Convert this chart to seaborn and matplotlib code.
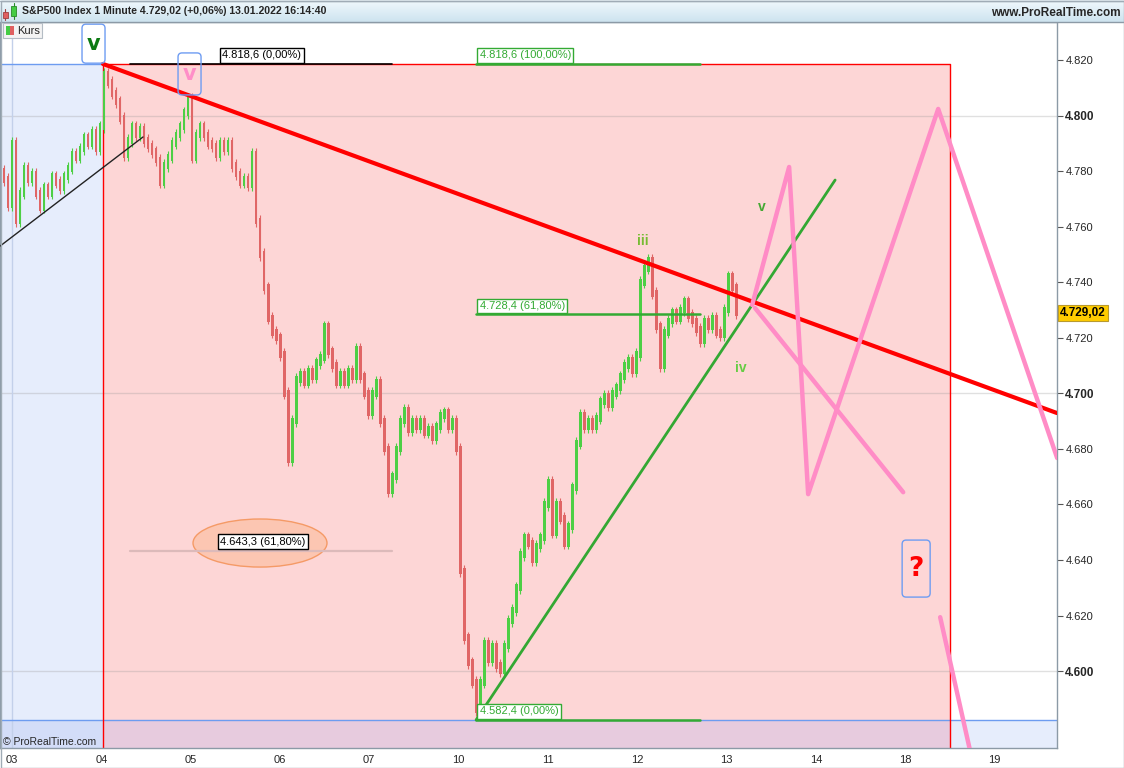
import numpy as np
import matplotlib
matplotlib.use("Agg")
import matplotlib.pyplot as plt
from matplotlib.patches import Rectangle, Ellipse, FancyBboxPatch
import seaborn as sns

# S&P500 1-minute closes (one value every ~4 minutes of screen)
closes = [
    4780, 4777, 4768, 4790, 4762, 4772, 4781, 4777, 4779, 4772, 4767, 4774, 4772,
    4778, 4776, 4774, 4778, 4781, 4786, 4785, 4788, 4792, 4790, 4794, 4788, 4796,
    4815, 4812, 4808, 4805, 4799, 4786, 4791, 4796, 4793, 4795, 4791, 4789, 4787,
    4784, 4776, 4782, 4785, 4790, 4793, 4796, 4801, 4806, 4785, 4793, 4796, 4793,
    4790, 4789, 4786, 4790, 4788, 4790, 4782, 4779, 4776, 4777, 4775, 4786,
    4762, 4750, 4738, 4727, 4722, 4720, 4714, 4700, 4676, 4690, 4705, 4707, 4704,
    4708, 4706, 4711, 4713, 4724, 4715, 4710, 4704, 4707, 4704, 4708, 4706, 4716,
    4706, 4700, 4693, 4700, 4704, 4690, 4680, 4665, 4670, 4680, 4690, 4694, 4687,
    4690, 4688, 4690, 4686, 4687, 4684, 4688, 4692, 4693, 4688, 4690, 4680,
    4636, 4612, 4603, 4596, 4586, 4596, 4610, 4604, 4609, 4602, 4600, 4609, 4618,
    4622, 4630, 4642, 4648, 4646, 4640, 4645, 4648, 4660, 4668, 4650, 4660, 4655,
    4646, 4652, 4666, 4682, 4692, 4688, 4690, 4688, 4691, 4697, 4699, 4696, 4700,
    4702, 4706, 4710, 4712, 4708, 4714,
    4740, 4745, 4748, 4736, 4724, 4710, 4722, 4726, 4729, 4727, 4730, 4733, 4728,
    4726, 4723, 4719, 4726, 4724, 4727, 4722, 4721, 4730, 4742, 4738, 4729,
]
bar_start = -0.134   # time of first bar, in trading days (0 = 03.01.)
bar_step = 0.0448

day_labels = ['03', '04', '05', '06', '07', '10', '11', '12', '13', '14', '18', '19']
price_ticks = [4600, 4620, 4640, 4660, 4680, 4700, 4720, 4740, 4760, 4780, 4800, 4820]
bold_ticks = [4600, 4700, 4800]
last_price = 4729.02

# fibonacci levels
fib_top = 4818.6
fib_618 = 4728.4
fib_bottom = 4582.4
fib_ext = 4643.3

# drawing tools (time in trading days, price)
box_start, box_end = 1.019, 10.504
red_t, red_p = [1.019, 11.70], [4818.6, 4692.9]
green_t, green_p = [5.196, 9.216], [4582.4, 4776.8]
black_t, black_p = [-0.134, 1.467], [4753.0, 4792.3]
proj_a_t = [8.287, 8.701, 8.914, 10.370, 11.702]
proj_a_p = [4731.8, 4781.5, 4663.7, 4802.4, 4676.7]
proj_b_t = [8.320, 9.978]
proj_b_p = [4730.7, 4664.4]
proj_c_t = [10.392, 10.75]
proj_c_p = [4619.4, 4568.0]

XMIN, XMAX = -0.134, 11.70
YMIN, YMAX = 4572.3, 4833.7
PX_T = 1 / 89.3    # days per pixel
PX_P = 1 / 2.777   # index points per pixel

UP, DOWN = '#4dcf45', '#e06666'
PINK = '#ff8cc6'
FIBGREEN = '#33aa33'
NARROW = ['Liberation Sans Narrow', 'Liberation Sans', 'DejaVu Sans']


def de(v, nd):
    s = f"{v:,.{nd}f}"
    return s.replace(',', 'X').replace('.', ',').replace('X', '.')


sns.set_style('white')
plt.rcParams['font.family'] = ['Liberation Sans', 'DejaVu Sans']

fig = plt.figure(figsize=(11.24, 7.68), dpi=100)
ax = fig.add_axes([0, 20 / 768, 1057 / 1124, 726 / 768])
ax.set_xlim(XMIN, XMAX)
ax.set_ylim(YMIN, YMAX)

# background zones
zones = [
    (XMIN, fib_bottom, box_start, fib_top, '#e6edfc'),
    (XMIN, YMIN, box_start, fib_bottom, '#d3ddf8'),
    (box_start, fib_bottom, box_end, fib_top, '#fdd6d6'),
    (box_start, YMIN, box_end, fib_bottom, '#e7cbde'),
    (box_end, YMIN, XMAX, fib_bottom, '#e6edfc'),
]
for xa, ya, xb, yb, c in zones:
    ax.add_patch(Rectangle((xa, ya), xb - xa, yb - ya, fc=c, ec='none', zorder=0))
ax.plot([XMIN, box_start], [fib_top, fib_top], color='#6d9cf0', lw=1, zorder=1)
ax.plot([XMIN, XMAX], [fib_bottom, fib_bottom], color='#6d9cf0', lw=1, zorder=1)
ax.plot([box_start, box_start, box_end, box_end], [YMIN, fib_top, fib_top, YMIN],
        color='red', lw=1, zorder=1)

for v in bold_ticks:
    ax.axhline(v, color='#9a9a9a', alpha=0.3, lw=1, zorder=0.5)
ax.axvline(0, color='#c3d0ea', lw=1, zorder=0.5)

# price bars: body from previous close to close, with a little noise margin
closes = np.array(closes, dtype=float)
t = bar_start + bar_step * np.arange(len(closes))
opens = np.r_[closes[0], closes[:-1]]
cols = [UP if c >= o else DOWN for o, c in zip(opens, closes)]
lows = np.minimum(opens, closes) - 1.2
highs = np.maximum(opens, closes) + 1.2
ax.bar(t, highs - lows, bottom=lows, width=bar_step * 0.7, color=cols, lw=0, zorder=2)
ax.vlines(t, lows - 1.0, highs + 1.0, colors=cols, lw=0.8, zorder=2)

# fib levels
ax.plot([1.321, 4.255], [fib_top, fib_top], color='black', lw=1.2, zorder=3)
ax.plot([1.321, 4.255], [fib_ext, fib_ext], color='#dcbaba', lw=1.6, zorder=3)
for lvl in (fib_top, fib_618, fib_bottom):
    ax.plot([5.196, 7.704], [lvl, lvl], color=FIBGREEN, lw=1.8, zorder=3)

ax.add_patch(Ellipse((2.777, 4646.1), 1.50, 17.3, fc='#fcc6b2', ec='#f59a66', lw=1, zorder=2.5))


def fib_label(x, y, s, color, ha='left', va='bottom', off=(2.5, 2.5)):
    ax.annotate(s, xy=(x, y), xytext=off, textcoords='offset points', ha=ha, va=va,
                fontsize=8, color=color, zorder=7,
                bbox=dict(boxstyle='square,pad=0.22', fc='white', ec=color, lw=1))


fib_label(2.318, fib_top, f"{de(fib_top, 1)} (0,00%)", 'black')
fib_label(5.196, fib_top, f"{de(fib_top, 1)} (100,00%)", FIBGREEN)
fib_label(5.196, fib_618, f"{de(fib_618, 1)} (61,80%)", FIBGREEN)
fib_label(5.196, fib_bottom, f"{de(fib_bottom, 1)} (0,00%)", FIBGREEN)
fib_label(2.811, 4646.6, f"{de(fib_ext, 1)} (61,80%)", 'black', ha='center', va='center', off=(0, 0))

# trend lines and projection
sns.lineplot(x=black_t, y=black_p, ax=ax, color='#222222', lw=1, sort=False, estimator=None, zorder=4)
sns.lineplot(x=green_t, y=green_p, ax=ax, color='#33a833', lw=2, sort=False, estimator=None, zorder=4)
sns.lineplot(x=red_t, y=red_p, ax=ax, color='#ff0000', lw=3, sort=False, estimator=None, zorder=4)
for pt, pp in ((proj_a_t, proj_a_p), (proj_b_t, proj_b_p), (proj_c_t, proj_c_p)):
    sns.lineplot(x=pt, y=pp, ax=ax, color=PINK, lw=3.2, sort=False, estimator=None, zorder=5)


def wave_box(tc, pc, w, h, s, color, size):
    ax.add_patch(FancyBboxPatch((tc - w * PX_T / 2, pc - h * PX_P / 2), w * PX_T, h * PX_P,
                                boxstyle=f"round,pad=0,rounding_size={4 * PX_T}",
                                mutation_aspect=PX_P / PX_T, fc='none', ec='#6e9cf2',
                                lw=1, zorder=6, clip_on=False))
    ax.text(tc, pc, s, color=color, fontsize=size, fontweight='bold', ha='center',
            va='center', zorder=7, family=['DejaVu Sans'])


wave_box(0.913, 4825.9, 23, 39, 'v', '#0b7a12', 15)
wave_box(1.988, 4815.0, 23, 42, 'v', '#ff8ec8', 15)
wave_box(10.123, 4636.9, 28, 57, '?', '#ff0000', 19)

ax.text(7.066, 4754.8, 'iii', color='#77bb33', fontsize=10, fontweight='bold', ha='center', va='center')
ax.text(8.399, 4767.1, 'v', color='#44a833', fontsize=10, fontweight='bold', ha='center', va='center')
ax.text(8.163, 4709.1, 'iv', color='#66cc44', fontsize=10, fontweight='bold', ha='center', va='center')

# axes
ax.yaxis.tick_right()
ax.set_yticks(price_ticks)
ax.set_yticklabels([de(v, 0) for v in price_ticks])
ax.set_xticks(range(len(day_labels)))
ax.set_xticklabels(day_labels)
ax.tick_params(axis='y', direction='out', length=4, width=0.8, color='#555555', pad=2, labelsize=8)
ax.tick_params(axis='x', direction='out', length=4, width=0.8, color='#555555', pad=1, labelsize=8)
ax.tick_params(axis='y', left=False, right=True)
for lbl in ax.get_yticklabels() + ax.get_xticklabels():
    lbl.set_family(NARROW)
for lbl, v in zip(ax.get_yticklabels(), price_ticks):
    if v in bold_ticks:
        lbl.set_fontweight('bold')
        lbl.set_fontsize(8.5)
for sp in ax.spines.values():
    sp.set_color('#8c9aa6')
    sp.set_linewidth(1)
ax.set_xlabel('')
ax.set_ylabel('')

ax.text(1.003, last_price, de(last_price, 2), transform=ax.get_yaxis_transform(),
        ha='left', va='center', fontsize=8.5, fontweight='bold', color='black', zorder=8,
        clip_on=False, bbox=dict(boxstyle='square,pad=0.15', fc='#ffcc00', ec='#b89a30', lw=0.8))

# header, legend and frame in pixel coordinates
ov = fig.add_axes([0, 0, 1, 1])
ov.set_xlim(0, 1124)
ov.set_ylim(768, 0)
ov.axis('off')
grad = np.linspace(0, 1, 50)[:, None]
ov.imshow(grad, extent=[0, 1124, 22, 0], cmap=matplotlib.colors.LinearSegmentedColormap.from_list(
    'hdr', ['#f1f9fd', '#cde3ef']), aspect='auto', zorder=1)
ov.plot([0, 1124], [22, 22], color='#8c9aa6', lw=1, zorder=2)
ov.plot([0, 1124], [0.5, 0.5], color='#a8b6c2', lw=1, zorder=2)
ov.add_patch(Rectangle((0.5, 0.5), 1123, 767, fc='none', ec='#a0acb6', lw=1, zorder=2))
ov.plot([5, 5], [9, 20], color='#a04040', lw=0.8, zorder=3)
ov.add_patch(Rectangle((3, 12), 4.5, 6, fc='#e06060', ec='#a04040', lw=0.6, zorder=4))
ov.plot([13.5, 13.5], [3, 19], color='#2a8a2a', lw=0.8, zorder=3)
ov.add_patch(Rectangle((11, 6), 5, 10, fc='#44cc44', ec='#2a8a2a', lw=0.6, zorder=4))
ov.text(22, 11.5, 'S&P500 Index 1 Minute 4.729,02 (+0,06%) 13.01.2022 16:14:40', fontsize=7.6,
        fontweight='bold', va='center', ha='left', family=NARROW, zorder=5)
ov.text(1121, 12.5, 'www.ProRealTime.com', fontsize=8.5, fontweight='bold', va='center',
        ha='right', family=NARROW, zorder=5)

ov.add_patch(Rectangle((3, 23), 39, 15, fc='#f3f3f3', ec='#b4bcc4', lw=0.8, zorder=3))
ov.add_patch(Rectangle((6, 26), 4, 9, fc='#44cc44', ec='none', zorder=4))
ov.add_patch(Rectangle((10, 26), 4, 9, fc='#e06060', ec='none', zorder=4))
ov.text(17, 31, 'Kurs', fontsize=8, va='center', ha='left', family=NARROW, zorder=5)
ov.text(3, 742, '© ProRealTime.com', fontsize=7.5, va='center', ha='left', family=NARROW, zorder=5)

fig.savefig('out.png', dpi=100)
